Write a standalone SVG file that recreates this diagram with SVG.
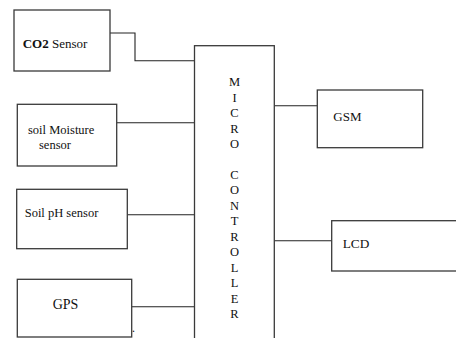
<svg xmlns="http://www.w3.org/2000/svg" width="456" height="338" viewBox="0 0 456 338">
<style>
.box{fill:#fff;stroke:#3a3a3a;stroke-width:1.3}
.wire{fill:none;stroke:#222;stroke-width:1.1}
.mc{font-size:12.5px;text-anchor:middle}
</style>
<rect width="456" height="338" fill="#fff"/>
<g id="connectors">
<polyline class="wire" points="110,33 135,33 135,60.7 194.5,60.7"/>
<line class="wire" x1="116.7" y1="122.7" x2="194.5" y2="122.7"/>
<line class="wire" x1="127.3" y1="214.7" x2="194.5" y2="214.7"/>
<line class="wire" x1="131.7" y1="306.7" x2="194.5" y2="306.7"/>
<line class="wire" x1="274.3" y1="105.7" x2="317.3" y2="105.7"/>
<line class="wire" x1="274.3" y1="240.7" x2="331.7" y2="240.7"/>
</g>
<g font-family="'Liberation Serif', 'Times New Roman', serif" fill="#111">
<g id="co2">
<rect class="box" x="14" y="10" width="96" height="61"/>
<text x="22.7" y="48" font-size="13"><tspan font-weight="bold">CO2</tspan> Sensor</text>
</g>
<g id="moisture">
<rect class="box" x="17.3" y="104.3" width="99.4" height="61.7"/>
<text x="28" y="133.7" font-size="12.5">soil Moisture</text>
<text x="39" y="149" font-size="12.5">sensor</text>
</g>
<g id="ph">
<rect class="box" x="16.7" y="189.3" width="110.6" height="59.4"/>
<text x="24.7" y="216.7" font-size="12.5">Soil pH sensor</text>
</g>
<g id="gps">
<rect class="box" x="17.3" y="279.3" width="114.4" height="57.7"/>
<text x="52.7" y="309" font-size="14">GPS</text>
<text x="132" y="332" font-size="12">.</text>
</g>
<g id="microcontroller">
<rect class="box" x="194.5" y="45.7" width="79.8" height="300"/>
<text class="mc" x="234.5" y="86.3">M</text>
<text class="mc" x="234.5" y="101.75">I</text>
<text class="mc" x="234.5" y="117.2">C</text>
<text class="mc" x="234.5" y="132.65">R</text>
<text class="mc" x="234.5" y="148.1">O</text>
<text class="mc" x="234.5" y="179">C</text>
<text class="mc" x="234.5" y="194.45">O</text>
<text class="mc" x="234.5" y="209.9">N</text>
<text class="mc" x="234.5" y="225.35">T</text>
<text class="mc" x="234.5" y="240.8">R</text>
<text class="mc" x="234.5" y="256.25">O</text>
<text class="mc" x="234.5" y="271.7">L</text>
<text class="mc" x="234.5" y="287.15">L</text>
<text class="mc" x="234.5" y="302.6">E</text>
<text class="mc" x="234.5" y="318">R</text>
</g>
<g id="gsm">
<rect class="box" x="317.3" y="90" width="105.4" height="57.7"/>
<text x="333.3" y="120.7" font-size="13">GSM</text>
</g>
<g id="lcd">
<rect class="box" x="331.7" y="220.7" width="130" height="50.3"/>
<text x="342.7" y="248.3" font-size="13.3">LCD</text>
</g>
</g>
</svg>
